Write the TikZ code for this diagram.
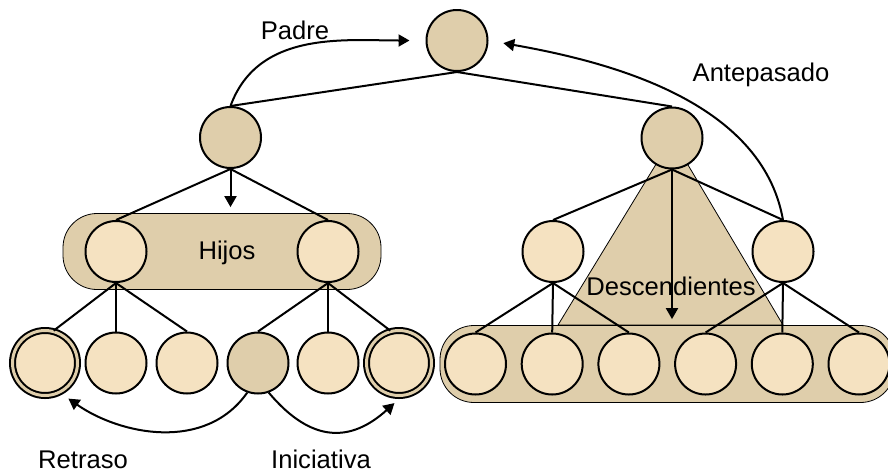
\documentclass[tikz,border=0pt]{standalone}
\usepackage{fontspec}
\setmainfont{Liberation Sans}
\usepackage{xcolor}
\usetikzlibrary{positioning,arrows.meta,fit,backgrounds}
\definecolor{oscuro}{RGB}{223,206,171}
\definecolor{claro}{RGB}{245,226,193}

\begin{document}
\begin{tikzpicture}[x=0.5pt, y=-0.5pt, line width=1pt,
  nodo/.style={circle, draw, fill=oscuro, minimum size=30.5pt, inner sep=0pt},
  hoja/.style={nodo, fill=claro},
  anillo/.style={hoja, minimum size=32.5pt, double=oscuro, double distance=1.5pt},
  banda/.style={draw, fill=oscuro, rounded corners=17pt, inner sep=0pt},
  flecha/.style={-{Triangle[length=5.5pt,width=6pt]}},
  etiqueta/.style={font=\fontsize{12.8pt}{15pt}\selectfont, inner sep=0pt, anchor=base}]
% page = 888 x 472 px, 1 px = 0.5pt
\useasboundingbox (0,0) rectangle (888,472);
% raiz y primer nivel
\node[nodo] (raiz) at (457,40.5) {};
\node[nodo] (izq) at (230.5,137.5) {};
\node[nodo] (der) at (672,138) {};
% hijos del nodo izquierdo
\node[hoja] (h1) at (116,251.5) {};
\node[hoja] (h2) at (328,251.5) {};
% nietos
\node[anillo] (n1) at (45,363) {};
\foreach \i/\x in {2/116,3/187,5/328}{
  \node[hoja] (n\i) at (\x,363) {};
}
\node[nodo] (n4) at (258,363) {};
\node[anillo] (n6) at (399,363) {};
% subarbol derecho
\node[hoja] (m1) at (553,251.5) {};
\node[hoja] (m2) at (783,251.5) {};
\foreach \i in {1,...,6}{
  \node[hoja] (d\i) at ({475.5+76.7*(\i-1)},364) {};
}
% triangulo + bandas detras
\begin{scope}[on background layer]
  \filldraw[fill=oscuro] (der.center) -- (558,325) -- (783,325) -- cycle;
  \node[banda, fit=(h1)(h2), inner xsep=10.75pt, inner ysep=3.25pt] (hbanda) {};
  \node[banda, fit=(d1)(d6), inner xsep=2pt, inner ysep=3.5pt] (dbanda) {};
\end{scope}
% aristas
\draw (raiz.south) -- (izq.north);
\draw (raiz.south) -- (der.north);
\foreach \h in {h1,h2}{ \draw (izq.south) -- (\h.north); }
\draw (h1.south) -- (n1.75);
\foreach \n in {n2,n3}{ \draw (h1.south) -- (\n.north); }
\foreach \n in {n4,n5}{ \draw (h2.south) -- (\n.north); }
\draw (h2.south) -- (n6.105);
\foreach \m in {m1,m2}{ \draw (der.south) -- (\m.north); }
\foreach \d in {d1,d2,d3}{ \draw (m1.south) -- (\d.north); }
\foreach \d in {d4,d5,d6}{ \draw (m2.south) -- (\d.north); }
% textos
\node[etiqueta] (tpadre) at (295,39) {Padre};
\node[etiqueta] (tante) at (761,81) {Antepasado};
\node[etiqueta] (thijos) at (227,259) {Hijos};
\node[etiqueta] (tdesc) at (671,295.5) {Descendientes};
\node[etiqueta] (tretraso) at (83,468) {Retraso};
\node[etiqueta] (tinic) at (321,468) {Iniciativa};
% flechas
\draw[flecha, shorten >=3pt] (izq.south) -- (izq.south |- hbanda.north);
\draw[flecha, shorten >=3pt] (der.south) -- (der.south |- dbanda.north);
\draw[flecha, shorten >=8pt] (izq.north) to[out=70, in=180] (raiz.west);
\draw[flecha, shorten >=7.5pt] (m2.north) to[out=100, in=-10, looseness=0.9] (raiz.east);
\draw[flecha, shorten >=5pt] (n4.-110) to[out=-125, in=-35] (n1.-63);
\draw[flecha, shorten >=5pt] (n4.-70) to[out=-50, in=-138, looseness=1.3] (n6.-85);
\end{tikzpicture}
\end{document}
